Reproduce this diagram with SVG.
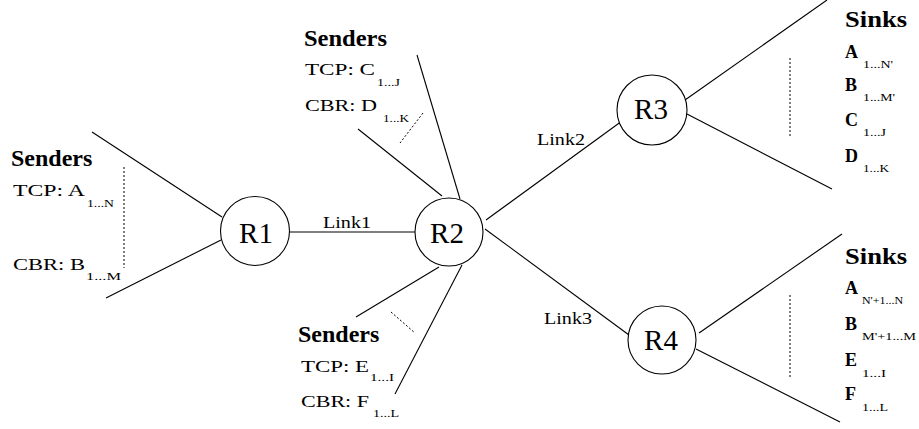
<svg xmlns="http://www.w3.org/2000/svg" width="919" height="429" viewBox="0 0 919 429">
  <style>
    .edge { stroke: #000; stroke-width: 1.1; fill: none; }
    .dots { stroke: #000; stroke-width: 1; stroke-dasharray: 2 2; fill: none; }
    .router { fill: #fff; stroke: #000; stroke-width: 1.1; }
    .rlabel { font-family: "Liberation Serif", "Times New Roman", serif; font-size: 29px; fill: #000; text-anchor: middle; }
    .head { font-family: "Liberation Serif", "Times New Roman", serif; font-weight: bold; font-size: 24px; fill: #000; }
    .lbl { font-family: "Liberation Serif", "Times New Roman", serif; font-size: 17px; fill: #000; }
    .sink { font-family: "Liberation Serif", "Times New Roman", serif; font-size: 18px; font-weight: bold; fill: #000; }
    .sub { font-family: "Liberation Serif", "Times New Roman", serif; font-size: 10px; fill: #000; }
    .link { font-family: "Liberation Serif", "Times New Roman", serif; font-size: 16px; fill: #000; }
  </style>

  <!-- connectors -->
  <g id="connectors">
    <!-- access links into R1 -->
    <line class="edge" x1="92" y1="132" x2="222" y2="217"/>
    <line class="edge" x1="106" y1="298" x2="221" y2="240"/>
    <line class="dots" x1="124" y1="167" x2="124" y2="268"/>
    <!-- access links into R2 (top) -->
    <line class="edge" x1="417" y1="55" x2="460" y2="199"/>
    <line class="edge" x1="358" y1="129" x2="442" y2="196"/>
    <line class="dots" x1="423" y1="113" x2="400" y2="143"/>
    <!-- access links into R2 (bottom) -->
    <line class="edge" x1="439" y1="267" x2="356" y2="317"/>
    <line class="edge" x1="462" y1="265" x2="395" y2="394"/>
    <line class="dots" x1="391" y1="312" x2="415" y2="333"/>
    <!-- core links -->
    <line class="edge" x1="290" y1="232" x2="415" y2="232"/>
    <line class="edge" x1="486" y1="220" x2="622" y2="121"/>
    <line class="edge" x1="485" y1="229" x2="629" y2="335"/>
    <!-- sink links from R3 -->
    <line class="edge" x1="685" y1="100" x2="827" y2="0"/>
    <line class="edge" x1="687" y1="114" x2="832" y2="189"/>
    <line class="dots" x1="790" y1="58" x2="790" y2="138"/>
    <!-- sink links from R4 -->
    <line class="edge" x1="699" y1="333" x2="842" y2="234"/>
    <line class="edge" x1="696" y1="349" x2="840" y2="422"/>
    <line class="dots" x1="790" y1="295" x2="790" y2="377"/>

    <text class="link" x="323" y="228" textLength="48" lengthAdjust="spacingAndGlyphs">Link1</text>
    <text class="link" x="537" y="145" textLength="48" lengthAdjust="spacingAndGlyphs">Link2</text>
    <text class="link" x="544" y="324" textLength="48" lengthAdjust="spacingAndGlyphs">Link3</text>
  </g>

  <!-- routers -->
  <g id="R1">
    <circle class="router" cx="255" cy="231" r="34.5"/>
    <text class="rlabel" x="256" y="243">R1</text>
  </g>
  <g id="R2">
    <circle class="router" cx="449" cy="232" r="34"/>
    <text class="rlabel" x="447" y="243">R2</text>
  </g>
  <g id="R3">
    <circle class="router" cx="652" cy="110" r="35"/>
    <text class="rlabel" x="651" y="119">R3</text>
  </g>
  <g id="R4">
    <circle class="router" cx="662" cy="340" r="34"/>
    <text class="rlabel" x="661" y="350">R4</text>
  </g>

  <!-- sender groups -->
  <g id="senders-r1">
    <text class="head" x="11" y="166">Senders</text>
    <text class="lbl" x="13" y="196" textLength="72" lengthAdjust="spacingAndGlyphs">TCP: A</text>
    <text class="sub" x="87" y="207" textLength="27" lengthAdjust="spacingAndGlyphs">1...N</text>
    <text class="lbl" x="13" y="270" textLength="72" lengthAdjust="spacingAndGlyphs">CBR: B</text>
    <text class="sub" x="86" y="280" textLength="35" lengthAdjust="spacingAndGlyphs">1...M</text>
  </g>
  <g id="senders-r2-top">
    <text class="head" x="304" y="46" textLength="83" lengthAdjust="spacingAndGlyphs">Senders</text>
    <text class="lbl" x="305" y="75" textLength="70" lengthAdjust="spacingAndGlyphs">TCP: C</text>
    <text class="sub" x="377" y="86" textLength="23" lengthAdjust="spacingAndGlyphs">1...J</text>
    <text class="lbl" x="305" y="111" textLength="72" lengthAdjust="spacingAndGlyphs">CBR: D</text>
    <text class="sub" x="383" y="122" textLength="26" lengthAdjust="spacingAndGlyphs">1...K</text>
  </g>
  <g id="senders-r2-bottom">
    <text class="head" x="298" y="342">Senders</text>
    <text class="lbl" x="301" y="372" textLength="68" lengthAdjust="spacingAndGlyphs">TCP: E</text>
    <text class="sub" x="370" y="381" textLength="24" lengthAdjust="spacingAndGlyphs">1...I</text>
    <text class="lbl" x="301" y="407" textLength="68" lengthAdjust="spacingAndGlyphs">CBR: F</text>
    <text class="sub" x="373" y="417" textLength="26" lengthAdjust="spacingAndGlyphs">1...L</text>
  </g>

  <!-- sink groups -->
  <g id="sinks-r3">
    <text class="head" x="845" y="27" textLength="62" lengthAdjust="spacingAndGlyphs">Sinks</text>
    <text class="sink" x="845" y="58">A</text>
    <text class="sub" x="863" y="68" textLength="30" lengthAdjust="spacingAndGlyphs">1...N'</text>
    <text class="sink" x="845" y="91">B</text>
    <text class="sub" x="863" y="101" textLength="32" lengthAdjust="spacingAndGlyphs">1...M'</text>
    <text class="sink" x="845" y="126">C</text>
    <text class="sub" x="863" y="136" textLength="23" lengthAdjust="spacingAndGlyphs">1...J</text>
    <text class="sink" x="845" y="162">D</text>
    <text class="sub" x="863" y="172" textLength="26" lengthAdjust="spacingAndGlyphs">1...K</text>
  </g>
  <g id="sinks-r4">
    <text class="head" x="845" y="264" textLength="62" lengthAdjust="spacingAndGlyphs">Sinks</text>
    <text class="sink" x="845" y="294">A</text>
    <text class="sub" x="862" y="304" textLength="41" lengthAdjust="spacingAndGlyphs">N'+1...N</text>
    <text class="sink" x="845" y="330">B</text>
    <text class="sub" x="862" y="340" textLength="54" lengthAdjust="spacingAndGlyphs">M'+1...M</text>
    <text class="sink" x="845" y="366">E</text>
    <text class="sub" x="862" y="377" textLength="24" lengthAdjust="spacingAndGlyphs">1...I</text>
    <text class="sink" x="845" y="400">F</text>
    <text class="sub" x="862" y="411" textLength="26" lengthAdjust="spacingAndGlyphs">1...L</text>
  </g>
</svg>
